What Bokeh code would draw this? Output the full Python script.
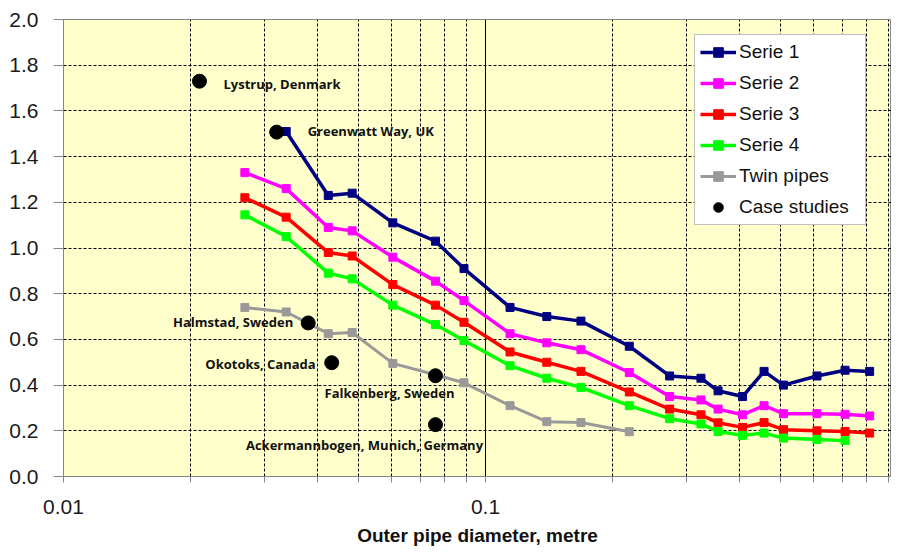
from bokeh.plotting import figure
from bokeh.models import (FixedTicker, CustomJSTickFormatter, PrintfTickFormatter,
                          Legend, LegendItem, Label, Range1d)
from bokeh.embed import file_html
from bokeh.resources import INLINE

# ---------------- data ----------------
diam = [0.0269, 0.0337, 0.0424, 0.0483, 0.0603, 0.0761, 0.0889, 0.1143, 0.1397,
        0.1683, 0.2191, 0.273, 0.3239, 0.3556, 0.4064, 0.457, 0.508, 0.610,
        0.711, 0.813]

serie1_x = diam[1:]
serie1 = [1.51, 1.23, 1.24, 1.11, 1.03, 0.91, 0.74, 0.70, 0.68, 0.57, 0.44,
          0.43, 0.375, 0.35, 0.46, 0.40, 0.44, 0.465, 0.46]
serie2_x = diam
serie2 = [1.33, 1.26, 1.09, 1.075, 0.96, 0.855, 0.77, 0.625, 0.585, 0.555,
          0.455, 0.35, 0.335, 0.295, 0.27, 0.31, 0.275, 0.275, 0.272, 0.265]
serie3_x = diam
serie3 = [1.22, 1.135, 0.98, 0.965, 0.84, 0.75, 0.675, 0.545, 0.50, 0.46,
          0.37, 0.295, 0.27, 0.235, 0.215, 0.236, 0.205, 0.20, 0.197, 0.19]
serie4_x = diam[:19]
serie4 = [1.145, 1.05, 0.89, 0.865, 0.75, 0.665, 0.595, 0.485, 0.43, 0.39,
          0.31, 0.253, 0.23, 0.197, 0.18, 0.19, 0.168, 0.162, 0.157]
twin_x = diam[:11]
twin = [0.74, 0.72, 0.625, 0.63, 0.495, 0.445, 0.41, 0.31, 0.24, 0.236, 0.196]

case_names = ["Lystrup, Denmark", "Greenwatt Way, UK", "Halmstad, Sweden",
              "Okotoks, Canada", "Falkenberg, Sweden",
              "Ackermannbogen, Munich, Germany"]
case_x = [0.021, 0.032, 0.038, 0.0432, 0.0761, 0.0761]
case_y = [1.73, 1.507, 0.672, 0.498, 0.441, 0.227]

x_major = [0.01, 0.1, 1]
x_minor = [0.02, 0.03, 0.04, 0.05, 0.06, 0.07, 0.08, 0.09,
           0.2, 0.3, 0.4, 0.5, 0.6, 0.7, 0.8, 0.9]
y_ticks = [0.0, 0.2, 0.4, 0.6, 0.8, 1.0, 1.2, 1.4, 1.6, 1.8, 2.0]
x_end = 0.916   # the original chart is cropped just after x = 1

# label placement (screen offsets: dx, dy, align)
label_style = [(24, -3, "left"), (31, 1, "left"), (-15, 1, "right"),
               (-16, -1, "right"), (-46, -17, "center"), (-71, -20, "center")]

# ---------------- figure ----------------
p = figure(width=891, height=548, x_axis_type="log",
           x_range=Range1d(0.01, x_end), y_range=Range1d(0, 2),
           output_backend="svg", toolbar_location=None,
           min_border_left=63, min_border_right=0, min_border_top=19,
           min_border_bottom=71)

p.background_fill_color = "#FFFFCC"
p.border_fill_color = "white"
p.outline_line_color = "#868686"
p.outline_line_width = 1

# axes
p.xaxis.ticker = FixedTicker(ticks=x_major, minor_ticks=x_minor)
p.xaxis.formatter = CustomJSTickFormatter(code="return tick.toString();")
p.yaxis.ticker = FixedTicker(ticks=y_ticks)
p.yaxis.formatter = PrintfTickFormatter(format="%.1f")

for ax in (p.xaxis, p.yaxis):
    ax.axis_line_color = "#868686"
    ax.axis_line_width = 1
    ax.major_tick_line_color = "#868686"
    ax.minor_tick_line_color = "#868686"
    ax.major_tick_in = 0
    ax.minor_tick_in = 0
    ax.major_label_text_font = "Liberation Sans"
    ax.major_label_text_font_size = "21px"
    ax.major_label_text_color = "#1a1a1a"

p.xaxis.major_tick_out = 6
p.xaxis.minor_tick_out = 6
p.xaxis.major_label_standoff = 17
p.yaxis.major_tick_out = 10
p.yaxis.minor_tick_out = 0
p.yaxis.major_label_standoff = 15

p.xaxis.axis_label = "Outer pipe diameter, metre"
p.xaxis.axis_label_text_font = "Liberation Sans"
p.xaxis.axis_label_text_font_style = "bold"
p.xaxis.axis_label_text_font_size = "19px"
p.xaxis.axis_label_text_color = "#111111"
p.xaxis.axis_label_standoff = 8

# grids
p.xgrid.ticker = FixedTicker(ticks=[0.1], minor_ticks=x_minor)
p.xgrid.grid_line_color = "black"
p.xgrid.grid_line_width = 1
p.xgrid.minor_grid_line_color = "black"
p.xgrid.minor_grid_line_dash = "3 2"
p.xgrid.minor_grid_line_width = 1
p.ygrid.ticker = FixedTicker(ticks=y_ticks[1:-1])
p.ygrid.grid_line_color = "black"
p.ygrid.grid_line_dash = "3 2"
p.ygrid.grid_line_width = 1

# series
series = [
    ("Serie 1", serie1_x, serie1, "#000080", 3.5),
    ("Serie 2", serie2_x, serie2, "#FF00FF", 3.5),
    ("Serie 3", serie3_x, serie3, "#FF0000", 3.5),
    ("Serie 4", serie4_x, serie4, "#00FF00", 3.5),
    ("Twin pipes", twin_x, twin, "#999999", 3.0),
]
items = []
for name, xs, ys, col, lw in series:
    r1 = p.line(xs, ys, line_color=col, line_width=lw)
    r2 = p.scatter(xs, ys, marker="square", size=8, fill_color=col,
                   line_color=col)
    items.append(LegendItem(label=name, renderers=[r1, r2]))

rc = p.scatter(case_x, case_y, marker="circle", size=14, fill_color="black",
               line_color="black")
items.append(LegendItem(label="Case studies", renderers=[rc]))

for name, cx, cy, (dx, dy, al) in zip(case_names, case_x, case_y, label_style):
    p.add_layout(Label(x=cx, y=cy, x_offset=dx, y_offset=dy, text=name,
                       text_align=al, text_baseline="middle",
                       text_font="Open Sans", text_font_style="bold",
                       text_font_size="13px", text_color="#111111"))

legend = Legend(items=items, location=(631, 251))
legend.border_line_color = "#808080"
legend.border_line_width = 1
legend.background_fill_color = "white"
legend.background_fill_alpha = 1
legend.label_text_font = "Liberation Sans"
legend.label_text_font_size = "19px"
legend.label_text_color = "#111111"
legend.padding = 5
legend.spacing = 7
legend.label_height = 24
legend.label_width = 121
legend.glyph_height = 24
legend.glyph_width = 36
legend.label_standoff = 3
legend.margin = 0
p.add_layout(legend)

open("out.html", "w").write(file_html(p, INLINE))
